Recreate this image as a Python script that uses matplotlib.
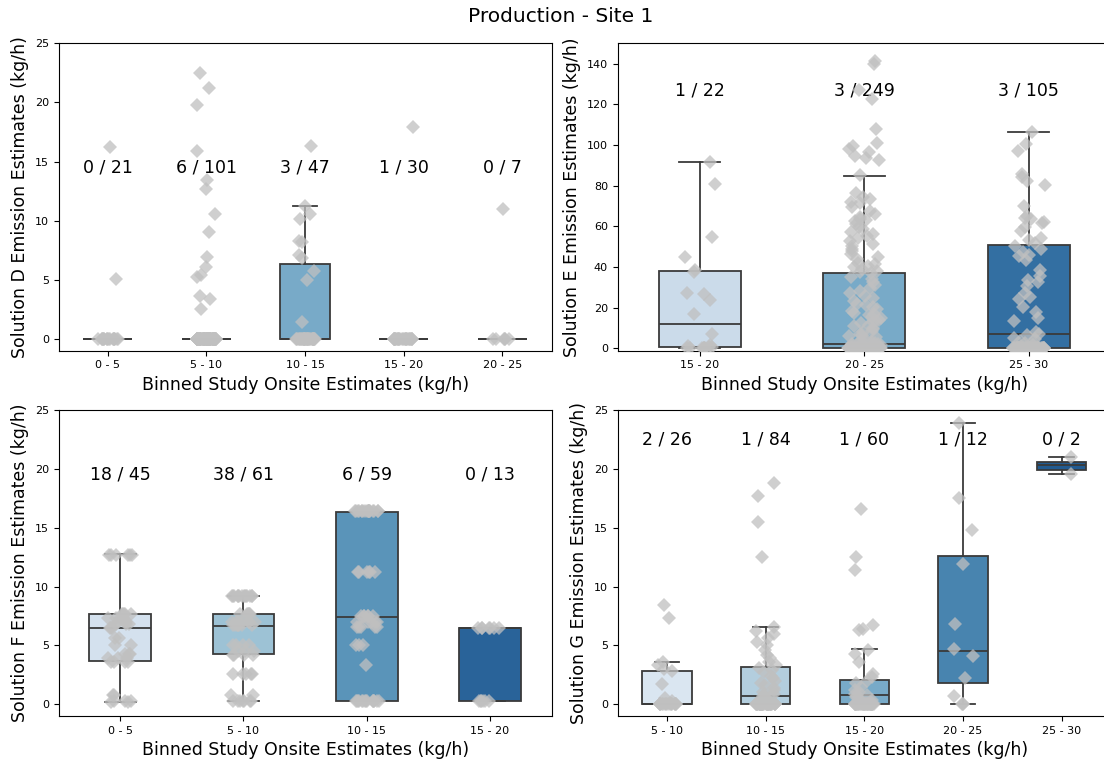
import numpy as np
import matplotlib
matplotlib.use("Agg")
import matplotlib.pyplot as plt
import seaborn as sns

# ---- data ----
d_bins = ["0 - 5", "5 - 10", "10 - 15", "15 - 20", "20 - 25"]
d_hits = [0, 6, 3, 1, 0]
d_totals = [21, 101, 47, 30, 7]
d_points = [
    [16.2, 5.1] + [0.0] * 19,
    [22.5, 21.2, 19.8, 15.9, 13.4, 12.7, 10.6, 9.0, 6.9, 6.1, 5.4, 5.2, 3.6, 3.4, 2.5] + [0.0] * 86,
    [16.3, 11.2, 10.6, 10.1, 8.3, 8.2, 7.1, 6.8, 5.7, 5.0, 1.4] + [0.0] * 36,
    [17.9] + [0.0] * 29,
    [11.0] + [0.0] * 6,
]
# q1, median, q3, whisker low, whisker high
d_box = [(0, 0, 0, 0, 0), (0, 0, 0, 0, 0), (0, 0, 6.3, 0, 11.2), (0, 0, 0, 0, 0), (0, 0, 0, 0, 0)]

e_bins = ["15 - 20", "20 - 25", "25 - 30"]
e_hits = [1, 3, 3]
e_totals = [22, 249, 105]
e_points = [
    [91.7, 80.8, 54.5, 44.8, 38.6, 37.5, 27.1, 26.5, 23.8, 16.8, 7.1, 1.8, 1.2, 0.8, 0.5, 0.3] + [0.0] * 6,
    [141.3, 139.8, 127.2, 122.4, 108.0, 101.2, 99.5, 97.8, 96.4, 94.6, 93.7, 92.8, 85.1, 76.4, 74.2,
     73.4, 71.9, 71.4, 69.7, 67.3, 65.8, 64.6, 63.8, 63.1, 62.4, 61.0, 59.6, 58.8, 57.2, 56.1,
     55.3, 54.0, 52.7, 51.5, 50.2, 48.9, 47.6, 46.3, 44.8, 43.7, 42.1, 41.4, 40.6, 39.8, 38.9,
     38.2, 37.6, 36.8, 35.1, 33.9, 32.4, 31.2, 29.8, 28.3, 27.1, 25.9, 24.6, 23.3, 22.0, 21.4,
     20.1, 19.2, 18.4, 17.5, 16.9, 16.2, 15.6, 14.8, 14.1, 13.5, 12.9, 12.2, 11.6, 10.8, 10.1,
     9.4, 8.7, 7.9, 7.2, 6.6, 5.9, 5.3, 4.8, 4.2, 3.7, 3.3, 2.9, 2.6, 2.3, 2.1, 1.9, 1.7, 1.5,
     1.3, 1.1, 0.9, 0.8, 0.6, 0.5, 0.4, 0.3, 0.2, 0.1] + [0.0] * 146,
    [106.3, 100.3, 97.2, 85.5, 84.4, 82.2, 80.1, 69.9, 65.2, 64.1, 63.6, 62.3, 61.4, 59.8, 57.6,
     54.4, 53.1, 51.8, 50.4, 48.7, 47.2, 46.1, 45.3, 43.2, 38.4, 35.6, 33.8, 32.5, 30.7, 27.4,
     25.1, 24.3, 20.2, 17.6, 15.1, 13.4, 8.2, 6.9, 6.3, 5.2, 4.6, 3.8, 3.1, 2.4, 1.8, 1.2, 0.7,
     0.4, 0.2] + [0.0] * 56,
]
e_box = [(0.8, 12.0, 38.1, 0.0, 91.7), (0.3, 2.1, 37.1, 0.0, 84.5), (0.0, 6.9, 50.9, 0.0, 106.3)]

f_bins = ["0 - 5", "5 - 10", "10 - 15", "15 - 20"]
f_hits = [18, 38, 6, 0]
f_totals = [45, 61, 59, 13]
f_points = [
    [12.7] * 6 + [7.7] * 5 + [7.3] * 4 + [7.0] * 3 + [6.8] * 3 + [6.5] * 3 + [5.6] * 2 + [5.0] * 2
    + [4.3] * 3 + [3.9] * 3 + [3.6] * 4 + [0.8] * 2 + [0.3] * 3 + [0.2] * 2,
    [9.2] * 14 + [7.7] * 6 + [7.0] * 8 + [6.7] * 8 + [5.0] * 4 + [4.5] * 3 + [4.2] * 4 + [2.6] * 5
    + [0.8] * 2 + [0.3] * 7,
    [16.4] * 18 + [11.2] * 6 + [7.5] * 6 + [7.0] * 5 + [6.6] * 5 + [5.0] * 3 + [3.3] + [0.3] * 15,
    [6.5] * 7 + [0.3] * 6,
]
f_box = [(3.65, 6.5, 7.7, 0.2, 12.8), (4.24, 6.67, 7.7, 0.3, 9.2), (0.3, 7.4, 16.35, 0.3, 16.35),
         (0.25, 6.5, 6.5, 0.25, 6.5)]

g_bins = ["5 - 10", "10 - 15", "15 - 20", "20 - 25", "25 - 30"]
g_hits = [2, 1, 1, 1, 0]
g_totals = [26, 84, 60, 12, 2]
g_points = [
    [8.4, 7.3, 3.6, 3.3, 3.0, 2.8, 1.7, 0.5, 0.3] + [0.0] * 17,
    [18.8, 17.7, 15.5, 12.5, 6.6, 6.2, 6.0, 5.6, 5.3, 5.0, 4.6, 4.2, 3.9, 3.6, 3.3, 3.1, 2.9, 2.7,
     2.4, 2.2, 2.0, 1.8, 1.6, 1.4, 1.2, 1.0, 0.9, 0.8, 0.7, 0.7, 0.6, 0.5, 0.4, 0.3, 0.2, 0.1] + [0.0] * 48,
    [16.6, 12.5, 11.4, 6.7, 6.4, 6.3, 4.6, 4.3, 3.6, 2.6, 2.3, 2.0, 1.8, 1.5, 1.2, 1.0, 0.9, 0.8,
     0.8, 0.6, 0.5, 0.4, 0.3, 0.2] + [0.0] * 36,
    [23.9, 17.5, 14.8, 11.9, 6.8, 4.7, 4.1, 2.2, 0.7, 0.0, 0.0, 0.0],
    [21.0, 19.6],
]
g_box = [(0.0, 0.0, 2.86, 0.0, 3.6), (0.0, 0.7, 3.2, 0.0, 6.6), (0.0, 0.8, 2.1, 0.0, 4.67),
         (1.8, 4.5, 12.6, 0.0, 23.9), (19.9, 20.3, 20.6, 19.6, 21.0)]

panels = [
    ("Solution D", d_bins, d_points, d_box, d_hits, d_totals, (-1, 25), 14.5, [0, 5, 10, 15, 20, 25]),
    ("Solution E", e_bins, e_points, e_box, e_hits, e_totals, (-1.2, 150), 127, [0, 20, 40, 60, 80, 100, 120, 140]),
    ("Solution F", f_bins, f_points, f_box, f_hits, f_totals, (-1, 25), 19.5, [0, 5, 10, 15, 20, 25]),
    ("Solution G", g_bins, g_points, g_box, g_hits, g_totals, (-1, 25), 22.5, [0, 5, 10, 15, 20, 25]),
]

W, H = 1104, 762
fig = plt.figure(figsize=(W / 100, H / 100), dpi=100)
rects = [
    (58.5, 43.3, 551.7, 350.7),
    (617.7, 43.3, 1111.0, 350.7),
    (58.5, 410.0, 551.7, 716.0),
    (617.7, 410.0, 1111.0, 716.0),
]
edge = "#3a3a3a"
rng = np.random.default_rng(7)

for (name, bins, pts, box, hits, tots, ylim, ty, yticks), (x0, y0, x1, y1) in zip(panels, rects):
    ax = fig.add_axes([x0 / W, 1 - y1 / H, (x1 - x0) / W, (y1 - y0) / H])
    n = len(bins)
    cols = [sns.desaturate(c, 0.75) for c in sns.color_palette("Blues", n)]
    stats = [dict(q1=b[0], med=b[1], q3=b[2], whislo=b[3], whishi=b[4], fliers=[]) for b in box]
    bp = ax.bxp(stats, positions=range(n), widths=0.5, capwidths=0.25, patch_artist=True,
                showfliers=False,
                boxprops=dict(edgecolor=edge, linewidth=1.3),
                whiskerprops=dict(color=edge, linewidth=1.3),
                capprops=dict(color=edge, linewidth=1.3),
                medianprops=dict(color=edge, linewidth=1.3))
    for patch, c in zip(bp["boxes"], cols):
        patch.set_facecolor(c)
    for i, p in enumerate(pts):
        xs = i + rng.uniform(-0.1, 0.1, len(p))
        ax.plot(xs, p, linestyle="none", marker="D", markersize=7, color="#c0c0c0",
                alpha=0.75, markeredgewidth=0, zorder=4)
    for i in range(n):
        ax.text(i, ty, f"{hits[i]} / {tots[i]}", ha="center", va="center", fontsize=12.5)
    ax.set_xlim(-0.5, n - 0.5)
    ax.set_ylim(*ylim)
    ax.set_yticks(yticks)
    ax.set_xticks(range(n))
    ax.set_xticklabels(bins)
    ax.tick_params(labelsize=8)
    ax.set_ylabel(f"{name} Emission Estimates (kg/h)", fontsize=12.5)
    ax.set_xlabel("Binned Study Onsite Estimates (kg/h)", fontsize=12.5)

fig.suptitle("Production - Site 1", fontsize=14.5, x=561 / W, y=1 - 16 / H, va="center")
fig.savefig("out.png", dpi=100)
